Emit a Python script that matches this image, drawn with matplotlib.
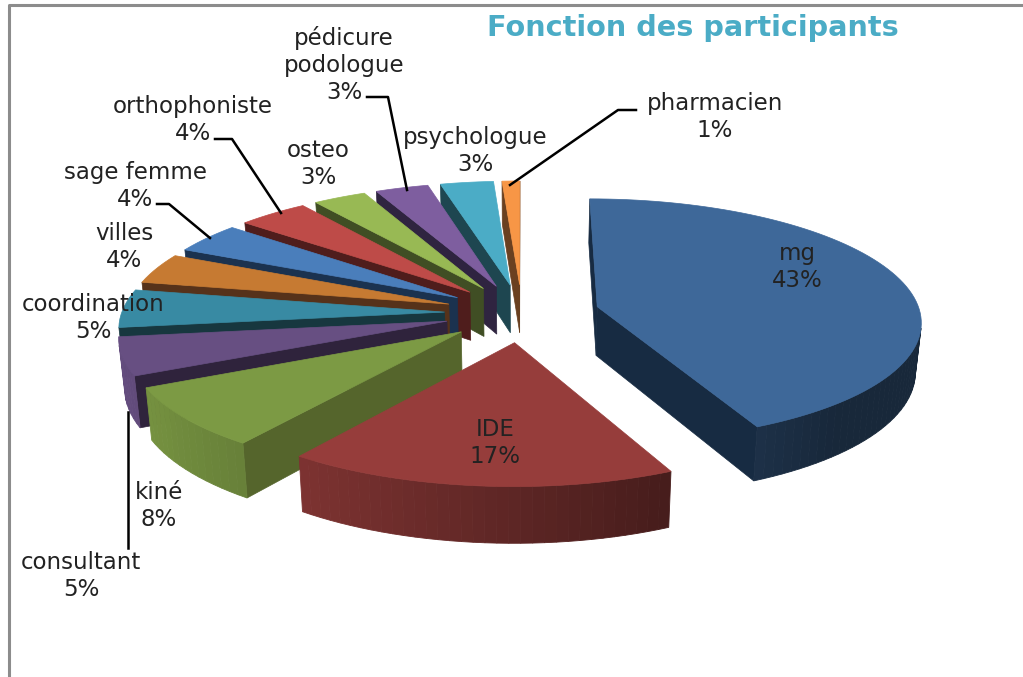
#!/usr/bin/env python3
"""Exploded 3D pie, Fonction des participants, drawn with a small perspective projection."""
import numpy as np
import matplotlib
matplotlib.use("Agg")
import matplotlib.pyplot as plt

categories = ["mg", "IDE", "kiné", "consultant", "coordination", "villes", "sage femme",
              "orthophoniste", "osteo", "pédicure\npodologue", "psychologue", "pharmacien"]
values = [43, 17, 8, 5, 5, 4, 4, 4, 3, 3, 3, 1]
top_colors = ["#3E6899", "#963D3B", "#7C9A44", "#674F82", "#388AA3", "#C67A32",
              "#4A7EBB", "#BE4B48", "#98B954", "#7E5E9F", "#4BACC6", "#F79646"]
side_colors = ["#172B42", "#5A2321", "#55652C", "#2F233C", "#17373F", "#56321A",
               "#1B324F", "#4F1D1C", "#404E24", "#2F2440", "#1E4650", "#6A4020"]
label_pos = [(797, 267), (495, 443), (159, 506), (81, 576), (93, 318), (124, 247),
             (135, 186), (193, 120), (318, 164), (344, 65), (475, 151), (715, 117)]

# projection of the pie plane to pixels
CX, CY = 522, 313
RX, RY = 323, 121
PERSP = 0.11
EXPLODE = 0.24
DEPTH = 49


def project(x, y, drop=0.0):
    w = 1 + PERSP * y
    px = CX + RX * x / w
    py = CY - RY * y / w + drop / w
    if drop:
        px = CX + (px - CX) * 0.985
    return px, py


def front_facing(a, b, c):
    # shoelace sign in y-down pixel coords
    return (b[0] - a[0]) * (c[1] - a[1]) - (b[1] - a[1]) * (c[0] - a[0]) < 0


def shade(color, f):
    return tuple(min(1, c * f) for c in matplotlib.colors.to_rgb(color))


fig = plt.figure(figsize=(10.23, 6.77), dpi=100)
ax = fig.add_axes([0, 0, 1, 1])
ax.set_xlim(0, 1023)
ax.set_ylim(677, 0)
ax.axis("off")

edges = np.cumsum([0] + values) / sum(values) * 2 * np.pi
mids = (edges[:-1] + edges[1:]) / 2
order = np.argsort(-np.cos(mids))  # back to front

for i in order:
    ox, oy = EXPLODE * np.sin(mids[i]), EXPLODE * np.cos(mids[i])
    th = np.linspace(edges[i], edges[i + 1], max(8, values[i] * 2))
    xs, ys = ox + np.sin(th), oy + np.cos(th)
    top = [project(x, y) for x, y in zip(xs, ys)]
    bot = [project(x, y, DEPTH) for x, y in zip(xs, ys)]
    apex_t, apex_b = project(ox, oy), project(ox, oy, DEPTH)

    # radial walls
    for a, b, a2, b2 in [(apex_t, top[0], apex_b, bot[0]), (top[-1], apex_t, bot[-1], apex_b)]:
        if front_facing(a, b, b2):
            ax.fill(*zip(a, b, b2, a2), color=side_colors[i], lw=0.5)
    # outer wall, shaded by where it faces
    for j in range(len(th) - 1):
        if front_facing(top[j], top[j + 1], bot[j + 1]):
            f = max(0.38, 0.62 - 0.36 * np.sin((th[j] + th[j + 1]) / 2))
            ax.fill(*zip(top[j], top[j + 1], bot[j + 1], bot[j]),
                    color=shade(top_colors[i], f), lw=0.6)
    ax.fill(*zip(apex_t, *top), color=top_colors[i], lw=0.5)

for name, v, (lx, ly) in zip(categories, values, label_pos):
    ax.text(lx, ly, f"{name}\n{v}%", ha="center", va="center", fontsize=16.5,
            color="#222222", linespacing=1.2, zorder=50)

# leader lines
leaders = [[(636, 110), (618, 110), (510, 185)],
           [(367, 97), (388, 97), (407, 190)],
           [(215, 139), (232, 139), (281, 213)],
           [(157, 204), (169, 204), (210, 238)],
           [(128, 412), (128, 548)]]
for pts in leaders:
    ax.plot(*zip(*pts), color="black", lw=1.8, zorder=40)

ax.plot([9, 9, 1023], [677, 5, 5], color="#8C8C8C", lw=2.2, zorder=1)
ax.text(693, 28, "Fonction des participants", ha="center", va="center",
        fontsize=20.7, fontweight="bold", color="#4BACC6")

fig.savefig("out.png", dpi=100, facecolor="white")
